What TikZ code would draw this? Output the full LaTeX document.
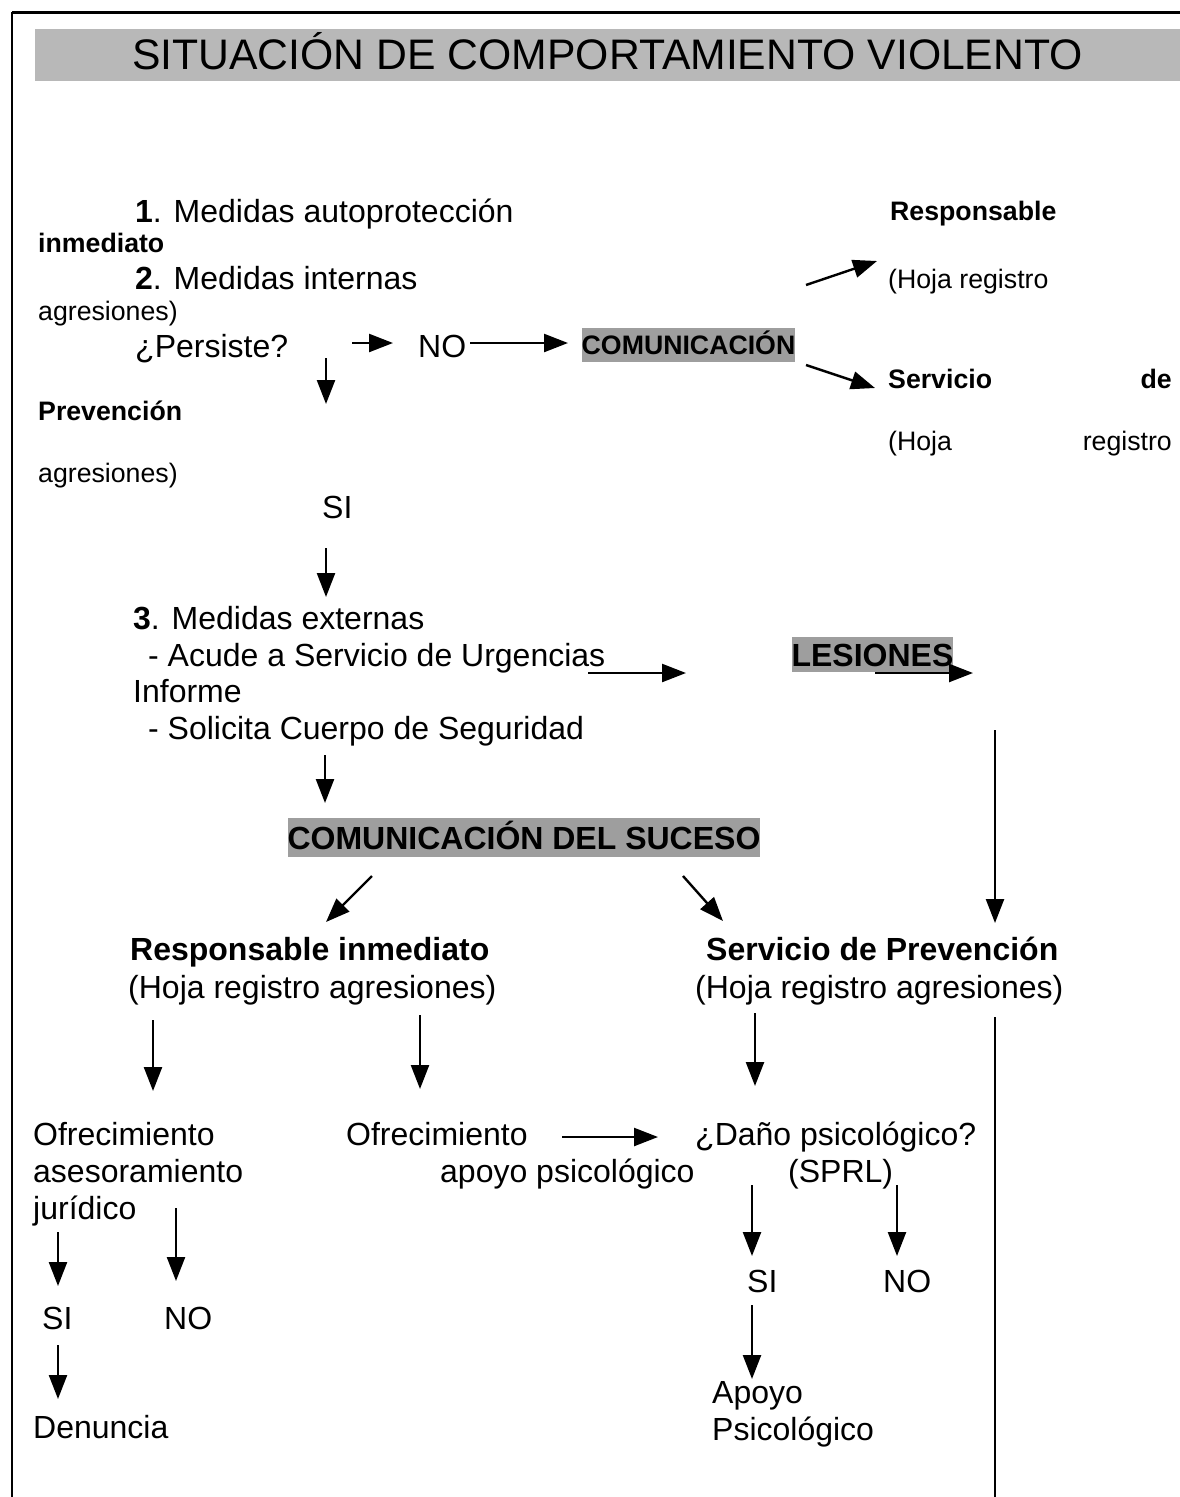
\documentclass[tikz,border=0pt]{standalone}
\usepackage{fontspec}
\setmainfont{Liberation Sans}
\usetikzlibrary{arrows.meta}
\definecolor{bannergray}{gray}{0.72}
\definecolor{hlgray}{gray}{0.62}
\begin{document}
\begin{tikzpicture}[x=1pt,y=-1pt,
  txt/.style={font=\fontsize{32}{38}\selectfont,inner sep=0pt,anchor=base west},
  txtb/.style={font=\fontsize{32}{38}\selectfont\bfseries,inner sep=0pt,anchor=base west},
  sml/.style={font=\fontsize{26.7}{32}\selectfont,inner sep=0pt,anchor=base west},
  smlb/.style={font=\fontsize{26.7}{32}\selectfont\bfseries,inner sep=0pt,anchor=base west},
  arr/.style={line width=2.4pt,-{Triangle[length=24pt,width=18pt]}},
  plain/.style={line width=2.4pt},
  hlbox/.style={fill=hlgray,inner sep=0pt,text depth=0pt}]
\useasboundingbox (0,0) rectangle (1180,1497);
% frame
\draw[line width=3pt] (12,12) -- (1180,12);
\draw[line width=2pt] (12,12) -- (12,1497);
% title banner
\fill[bannergray] (35,29) rectangle (1180,81);
\node[inner sep=0pt,anchor=base,font=\fontsize{42.7}{50}\selectfont] (title) at (607.5,69) {SITUACIÓN DE COMPORTAMIENTO VIOLENTO};

% top section
\node[txt] (n1) at (135,222) {{\bfseries 1}. Medidas autoprotección};
\node[smlb] (inm) at (38,252) {inmediato};
\node[txt] (n2) at (135,289) {{\bfseries 2}. Medidas internas};
\node[sml] (agr1) at (38,320) {agresiones)};
\node[txt] (pers) at (135,357) {¿Persiste?};
\node[txt] (no1) at (418,357) {NO};
\node[hlbox,font=\fontsize{26.7}{32}\selectfont\bfseries,text height=19pt,minimum width=213pt,minimum height=34pt] (com) at (688.5,345) {COMUNICACIÓN};
\node[smlb] (resp) at (890,220) {Responsable};
\node[sml] (hoja1) at (888,288) {(Hoja registro};
\node[smlb] (serv) at (888,388) {Servicio};
\node[smlb,anchor=base east] (de) at (1172,388) {de};
\node[smlb] (prev) at (38,420) {Prevención};
\node[sml] (hoja2) at (888,450) {(Hoja};
\node[sml,anchor=base east] (reg2) at (1172,450) {registro};
\node[sml] (agr2) at (38,482) {agresiones)};
\node[txt] (si1) at (322,518) {SI};

% external measures
\node[txt] (n3) at (133,629) {{\bfseries 3}. Medidas externas};
\node[txt] (acude) at (148,666) {- Acude a Servicio de Urgencias};
\node[txt] (inf) at (133,702) {Informe};
\node[txt] (sol) at (148,739) {- Solicita Cuerpo de Seguridad};
\node[hlbox,font=\fontsize{32}{38}\selectfont\bfseries,text height=23pt,minimum width=161pt,minimum height=35pt] (les) at (872.5,654.5) {LESIONES};
\node[hlbox,font=\fontsize{32}{38}\selectfont\bfseries,text height=23pt,minimum width=472pt,minimum height=39pt] (suc) at (524,837.5) {COMUNICACIÓN DEL SUCESO};

% two branches
\node[txtb] (ri) at (130,960) {Responsable inmediato};
\node[txt] (hr1) at (128,998) {(Hoja registro agresiones)};
\node[txtb] (sp) at (706,960) {Servicio de Prevención};
\node[txt] (hr2) at (695,998) {(Hoja registro agresiones)};

\node[txt] (of1) at (33,1145) {Ofrecimiento};
\node[txt] (as) at (33,1182) {asesoramiento};
\node[txt] (jur) at (33,1219) {jurídico};
\node[txt] (of2) at (346,1145) {Ofrecimiento};
\node[txt] (ap) at (440,1182) {apoyo psicológico};
\node[txt] (dano) at (695,1145) {¿Daño psicológico?};
\node[txt] (sprl) at (788,1182) {(SPRL)};
\node[txt] (si2) at (42,1329) {SI};
\node[txt] (no2) at (164,1329) {NO};
\node[txt] (si3) at (747,1292) {SI};
\node[txt] (no3) at (883,1292) {NO};
\node[txt] (den) at (33,1438) {Denuncia};
\node[txt] (apo) at (712,1403) {Apoyo};
\node[txt] (psi) at (712,1440) {Psicológico};

% connector end points
\coordinate (a1s) at (352,343);  \coordinate (a1e) at (393,343);
\coordinate (a2s) at (470,343);  \coordinate (a2e) at (568,343);
\coordinate (a3s) at (326,358);  \coordinate (a3e) at (326,404);
\coordinate (a4s) at (806,285);  \coordinate (a4e) at (877,261);
\coordinate (a5s) at (806,365);  \coordinate (a5e) at (875,388);
\coordinate (a6s) at (326,548);  \coordinate (a6e) at (326,597);
\coordinate (a7s) at (588,673);  \coordinate (a7e) at (686,673);
\coordinate (a8s) at (875,673);  \coordinate (a8e) at (973,673);
\coordinate (a9s) at (325,755);  \coordinate (a9e) at (325,803);
\coordinate (a10s) at (995,730); \coordinate (a10e) at (995,923);
\coordinate (a11s) at (372,876); \coordinate (a11e) at (326,922);
\coordinate (a12s) at (683,876); \coordinate (a12e) at (723,921);
\coordinate (a13s) at (153,1020); \coordinate (a13e) at (153,1091);
\coordinate (a14s) at (420,1015); \coordinate (a14e) at (420,1089);
\coordinate (a15s) at (755,1013); \coordinate (a15e) at (755,1086);
\coordinate (l16s) at (995,1017); \coordinate (l16e) at (995,1497);
\coordinate (a17s) at (562,1137); \coordinate (a17e) at (658,1137);
\coordinate (a18s) at (58,1232);  \coordinate (a18e) at (58,1286);
\coordinate (a19s) at (176,1208); \coordinate (a19e) at (176,1281);
\coordinate (a20s) at (752,1185); \coordinate (a20e) at (752,1256);
\coordinate (a21s) at (897,1185); \coordinate (a21e) at (897,1256);
\coordinate (a22s) at (58,1345);  \coordinate (a22e) at (58,1399);
\coordinate (a23s) at (752,1305); \coordinate (a23e) at (752,1379);

\draw[arr] (a1s) -- (a1e);
\draw[arr] (a2s) -- (a2e);
\draw[arr] (a3s) -- (a3e);
\draw[arr] (a4s) -- (a4e);
\draw[arr] (a5s) -- (a5e);
\draw[arr] (a6s) -- (a6e);
\draw[arr] (a7s) -- (a7e);
\draw[arr] (a8s) -- (a8e);
\draw[arr] (a9s) -- (a9e);
\draw[arr] (a10s) -- (a10e);
\draw[arr] (a11s) -- (a11e);
\draw[arr] (a12s) -- (a12e);
\draw[arr] (a13s) -- (a13e);
\draw[arr] (a14s) -- (a14e);
\draw[arr] (a15s) -- (a15e);
\draw[plain] (l16s) -- (l16e);
\draw[arr] (a17s) -- (a17e);
\draw[arr] (a18s) -- (a18e);
\draw[arr] (a19s) -- (a19e);
\draw[arr] (a20s) -- (a20e);
\draw[arr] (a21s) -- (a21e);
\draw[arr] (a22s) -- (a22e);
\draw[arr] (a23s) -- (a23e);
\end{tikzpicture}
\end{document}
